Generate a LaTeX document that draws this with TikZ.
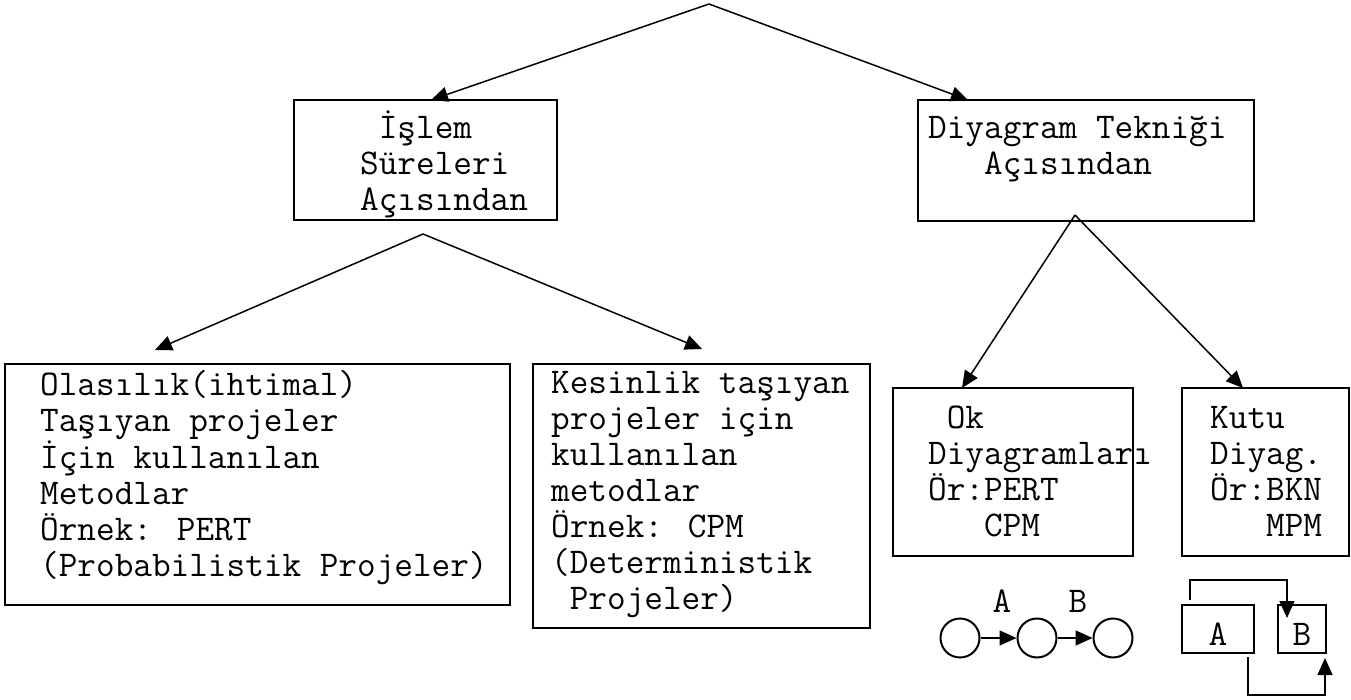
\documentclass[tikz,border=0pt]{standalone}
\usepackage{fontspec}
\usepackage{tikz}
\usetikzlibrary{arrows.meta}
\newcommand\ustluk{\rule{0pt}{31pt}}

\begin{document}
\begin{tikzpicture}[x=1pt,y=-1pt,
    lbl/.style={font=\ttfamily\fontsize{36.2}{36}\selectfont},
    box/.style={rectangle, draw, line width=2pt, anchor=north west, inner sep=0pt, outer sep=0pt},
    txt/.style={lbl, anchor=north west, inner sep=0pt, align=left},
    link/.style={-{Triangle[length=17pt,width=15pt]}, line width=1.5pt},
    ring/.style={circle, draw, line width=2pt, minimum size=39pt, inner sep=0pt}]
  \useasboundingbox (0,0) rectangle (1351,700);

  \node[box, minimum width=263pt, minimum height=120pt] (islem) at (294,100) {};
  \node[box, minimum width=336pt, minimum height=121pt] (diyagram) at (918,100) {};
  \node[box, minimum width=505pt, minimum height=241pt] (olasilik) at (5,364) {};
  \node[box, minimum width=337pt, minimum height=264pt] (kesinlik) at (533,364) {};
  \node[box, minimum width=240pt, minimum height=168pt] (ok) at (893,388) {};
  \node[box, minimum width=167pt, minimum height=168pt] (kutu) at (1182,388) {};

  \node[txt] (islemyazi) at (360,107) {\ustluk~İşlem\\Süreleri\\Açısından};
  \node[txt] (diyyazi) at (928,107) {\ustluk Diyagram Tekniği\\~~~Açısından};
  \node[txt] (olayazi) at (40,364) {\ustluk Olasılık(ihtimal)\\Taşıyan projeler\\İçin kullanılan\\Metodlar\\Örnek: PERT\\(Probabilistik Projeler)};
  \node[txt] (kesyazi) at (551,362) {\ustluk Kesinlik taşıyan\\projeler için\\kullanılan\\metodlar\\Örnek: CPM\\(Deterministik\\~Projeler)};
  \node[txt] (okyazi) at (928,397) {\ustluk~Ok\\Diyagramları\\Ör:PERT\\~~~CPM};
  \node[txt] (kutuyazi) at (1210,397) {\ustluk Kutu\\Diyag.\\Ör:BKN\\~~~MPM};

  \coordinate (tepe) at (709,4);
  \coordinate (islemalt) at (423,234);
  \coordinate (diyalt) at (1075,215);
  \draw[link] (tepe) -- ([xshift=137pt]islem.north west);
  \draw[link] (tepe) -- ([xshift=50pt]diyagram.north west);
  \draw[link] (islemalt) -- ([xshift=150pt,yshift=14pt]olasilik.north west);
  \draw[link] (islemalt) -- ([xshift=169pt,yshift=15pt]kesinlik.north west);
  \draw[link] (diyalt) -- ([xshift=69pt]ok.north west);
  \draw[link] (diyalt) -- ([xshift=61pt]kutu.north west);

  \node[ring] (c1) at (960,638) {};
  \node[ring] (c2) at (1037,638) {};
  \node[ring] (c3) at (1113,638) {};
  \node[lbl] (ea) at (1002,601) {A};
  \node[lbl] (eb) at (1078,601) {B};
  \draw[link] (c1) -- (c2);
  \draw[link] (c2) -- (c3);

  \node[box, lbl, minimum width=72pt, minimum height=48pt, text height=32pt, text depth=0pt] (ka) at (1182,605) {A};
  \node[box, lbl, minimum width=48pt, minimum height=48pt, text height=32pt, text depth=0pt] (kb) at (1278,605) {B};
  \draw[link] ([xshift=8pt,yshift=5pt]ka.north west) -- ++(0,-20) -| ([xshift=9pt,yshift=-13pt]kb.north west);
  \draw[link] ([xshift=-6pt,yshift=-4pt]ka.south east) -- ++(0,38) -| ([xshift=-1pt,yshift=-5pt]kb.south east);
\end{tikzpicture}
\end{document}
